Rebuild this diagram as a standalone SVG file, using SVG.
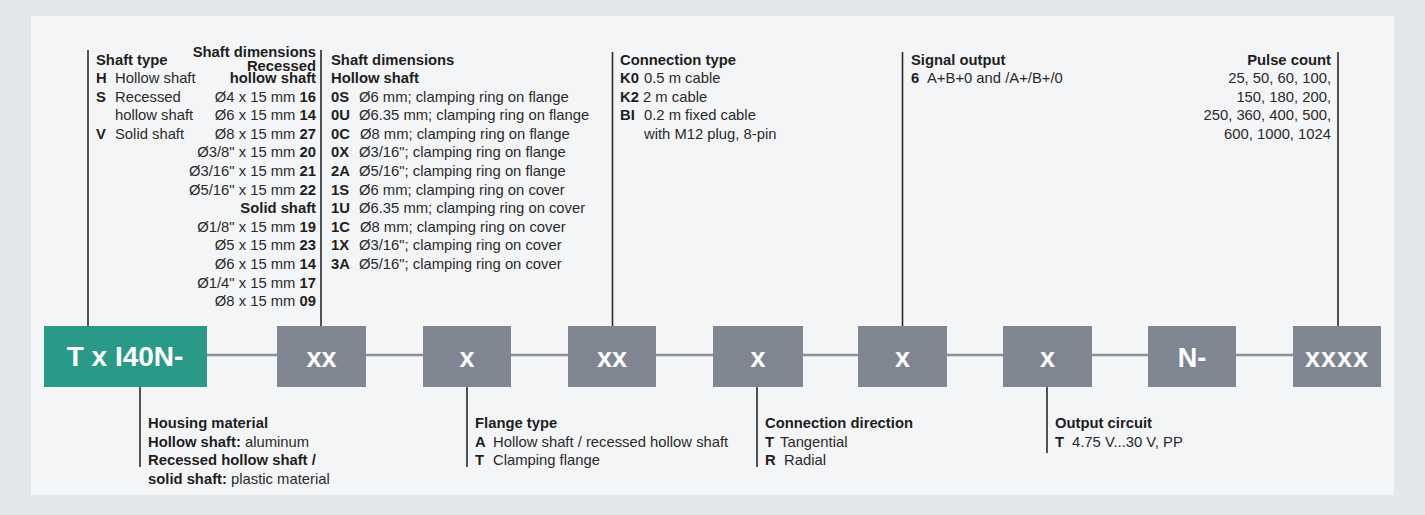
<svg xmlns="http://www.w3.org/2000/svg" width="1425" height="515" viewBox="0 0 1425 515">
<style>
text{font-family:"Liberation Sans",Arial,Helvetica,sans-serif;font-size:14.8px;fill:#2a2a2a}
.b{font-weight:bold;fill:#1e1e1e}
.r{text-anchor:end}
.box{fill:#7f8691}
.teal{fill:#2a9a88}
.bt{font-size:27px;font-weight:bold;fill:#ffffff;text-anchor:middle}
.lead{stroke:#2a2a2a;stroke-width:1.6;fill:none}
.chain{stroke:#8a9199;stroke-width:2.6;fill:none}
</style>
<rect x="0" y="0" width="1425" height="515" fill="#e4e7ea"/>
<rect x="31" y="16" width="1363" height="479" fill="#f4f5f6"/>

<g id="connectors">
  <line class="chain" x1="207" y1="355" x2="1293" y2="355"/>
  <line class="lead" x1="88" y1="50" x2="88" y2="326"/>
  <line class="lead" x1="321" y1="50" x2="321" y2="326"/>
  <line class="lead" x1="612.5" y1="52" x2="612.5" y2="326"/>
  <line class="lead" x1="902.5" y1="52" x2="902.5" y2="326"/>
  <line class="lead" x1="1338" y1="52" x2="1338" y2="326"/>
  <line class="lead" x1="140" y1="387" x2="140" y2="467"/>
  <line class="lead" x1="467" y1="387" x2="467" y2="467"/>
  <line class="lead" x1="757" y1="387" x2="757" y2="467"/>
  <line class="lead" x1="1047" y1="387" x2="1047" y2="453"/>
</g>

<g id="node-base">
  <rect class="teal" x="44" y="326" width="163" height="61"/>
  <text class="bt" x="125" y="366" style="font-size:28px">T x I40N-</text>
</g>
<g id="node-shaft-dim">
  <rect class="box" x="277" y="326" width="89" height="61"/>
  <text class="bt" x="321.5" y="367">xx</text>
</g>
<g id="node-flange">
  <rect class="box" x="423" y="326" width="88" height="61"/>
  <text class="bt" x="467" y="367">x</text>
</g>
<g id="node-connection-type">
  <rect class="box" x="568" y="326" width="88" height="61"/>
  <text class="bt" x="612" y="367">xx</text>
</g>
<g id="node-connection-dir">
  <rect class="box" x="713" y="326" width="90" height="61"/>
  <text class="bt" x="758" y="367">x</text>
</g>
<g id="node-signal">
  <rect class="box" x="858" y="326" width="89" height="61"/>
  <text class="bt" x="902.5" y="367">x</text>
</g>
<g id="node-output">
  <rect class="box" x="1003" y="326" width="89" height="61"/>
  <text class="bt" x="1047.5" y="367">x</text>
</g>
<g id="node-n">
  <rect class="box" x="1148" y="326" width="88" height="61"/>
  <text class="bt" x="1192" y="367">N-</text>
</g>
<g id="node-pulse">
  <rect class="box" x="1293" y="326" width="88" height="61"/>
  <text class="bt" x="1337" y="367" style="letter-spacing:1px">xxxx</text>
</g>

<g id="label-shaft-type">
  <text class="b" x="96" y="64.5">Shaft type</text>
  <text class="b" x="96" y="83">H</text><text x="115" y="83">Hollow shaft</text>
  <text class="b" x="96" y="101.6">S</text><text x="115" y="101.6">Recessed</text>
  <text x="115" y="120.2">hollow shaft</text>
  <text class="b" x="96" y="138.8">V</text><text x="115" y="138.8">Solid shaft</text>
</g>

<g id="label-shaft-dim-recessed">
  <text class="b r"><tspan x="316" y="57">Shaft dimensions</tspan><tspan x="316" y="70.5">Recessed</tspan><tspan x="316" y="83">hollow shaft</tspan></text>
  <text class="r" x="316" y="101.6">Ø4 x 15 mm <tspan class="b">16</tspan></text>
  <text class="r" x="316" y="120.2">Ø6 x 15 mm <tspan class="b">14</tspan></text>
  <text class="r" x="316" y="138.8">Ø8 x 15 mm <tspan class="b">27</tspan></text>
  <text class="r" x="316" y="157.4">Ø3/8" x 15 mm <tspan class="b">20</tspan></text>
  <text class="r" x="316" y="176">Ø3/16" x 15 mm <tspan class="b">21</tspan></text>
  <text class="r" x="316" y="194.6">Ø5/16" x 15 mm <tspan class="b">22</tspan></text>
  <text class="b r" x="316" y="213.2">Solid shaft</text>
  <text class="r" x="316" y="231.8">Ø1/8" x 15 mm <tspan class="b">19</tspan></text>
  <text class="r" x="316" y="250.4">Ø5 x 15 mm <tspan class="b">23</tspan></text>
  <text class="r" x="316" y="269">Ø6 x 15 mm <tspan class="b">14</tspan></text>
  <text class="r" x="316" y="287.6">Ø1/4" x 15 mm <tspan class="b">17</tspan></text>
  <text class="r" x="316" y="306.2">Ø8 x 15 mm <tspan class="b">09</tspan></text>
</g>

<g id="label-shaft-dim-hollow">
  <text class="b" x="331" y="64.5">Shaft dimensions</text>
  <text class="b" x="331" y="83">Hollow shaft</text>
  <text class="b" x="331" y="101.6">0S</text><text x="359" y="101.6">Ø6 mm; clamping ring on flange</text>
  <text class="b" x="331" y="120.2">0U</text><text x="359" y="120.2">Ø6.35 mm; clamping ring on flange</text>
  <text class="b" x="331" y="138.8">0C</text><text x="360" y="138.8">Ø8 mm; clamping ring on flange</text>
  <text class="b" x="331" y="157.4">0X</text><text x="359" y="157.4">Ø3/16"; clamping ring on flange</text>
  <text class="b" x="331" y="176">2A</text><text x="359" y="176">Ø5/16"; clamping ring on flange</text>
  <text class="b" x="331" y="194.6">1S</text><text x="359" y="194.6">Ø6 mm; clamping ring on cover</text>
  <text class="b" x="331" y="213.2">1U</text><text x="359" y="213.2">Ø6.35 mm; clamping ring on cover</text>
  <text class="b" x="331" y="231.8">1C</text><text x="360" y="231.8">Ø8 mm; clamping ring on cover</text>
  <text class="b" x="331" y="250.4">1X</text><text x="359" y="250.4">Ø3/16"; clamping ring on cover</text>
  <text class="b" x="331" y="269">3A</text><text x="359" y="269">Ø5/16"; clamping ring on cover</text>
</g>

<g id="label-connection-type">
  <text class="b" x="620" y="64.5">Connection type</text>
  <text class="b" x="620" y="83">K0</text><text x="644" y="83">0.5 m cable</text>
  <text class="b" x="620" y="101.6">K2</text><text x="643" y="101.6">2 m cable</text>
  <text class="b" x="620" y="120.2">BI</text><text x="644" y="120.2">0.2 m fixed cable</text>
  <text x="644" y="138.8">with M12 plug, 8-pin</text>
</g>

<g id="label-signal-output">
  <text class="b" x="911" y="64.5">Signal output</text>
  <text class="b" x="911" y="83">6</text><text x="927" y="83">A+B+0 and /A+/B+/0</text>
</g>

<g id="label-pulse-count">
  <text class="b r" x="1331" y="64.5">Pulse count</text>
  <text class="r" x="1331" y="83">25, 50, 60, 100,</text>
  <text class="r" x="1331" y="101.6">150, 180, 200,</text>
  <text class="r" x="1331" y="120.2">250, 360, 400, 500,</text>
  <text class="r" x="1331" y="138.8">600, 1000, 1024</text>
</g>

<g id="label-housing">
  <text class="b" x="148" y="428">Housing material</text>
  <text x="148" y="446.5"><tspan class="b">Hollow shaft:</tspan> aluminum</text>
  <text class="b" x="148" y="465">Recessed hollow shaft /</text>
  <text x="148" y="483.5"><tspan class="b">solid shaft:</tspan> plastic material</text>
</g>

<g id="label-flange">
  <text class="b" x="475" y="428">Flange type</text>
  <text class="b" x="475" y="446.5">A</text><text x="493" y="446.5">Hollow shaft / recessed hollow shaft</text>
  <text class="b" x="475" y="465">T</text><text x="493" y="465">Clamping flange</text>
</g>

<g id="label-connection-dir">
  <text class="b" x="765" y="428">Connection direction</text>
  <text class="b" x="765" y="446.5">T</text><text x="780" y="446.5">Tangential</text>
  <text class="b" x="765" y="465">R</text><text x="784" y="465">Radial</text>
</g>

<g id="label-output-circuit">
  <text class="b" x="1055" y="428">Output circuit</text>
  <text class="b" x="1055" y="446.5">T</text><text x="1072" y="446.5">4.75 V...30 V, PP</text>
</g>
</svg>
